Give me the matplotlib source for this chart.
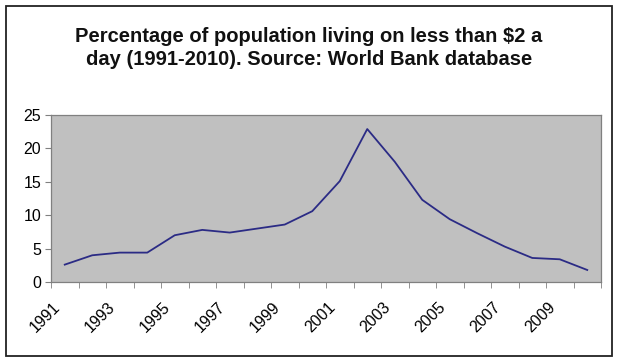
import matplotlib

matplotlib.use("Agg")
import matplotlib.pyplot as plt
from matplotlib.patches import Rectangle
from matplotlib.ticker import FixedLocator
from matplotlib.transforms import ScaledTranslation

years = list(range(1991, 2011))
share_below_2usd = [2.6, 4.0, 4.4, 4.4, 7.0, 7.8, 7.4, 8.0, 8.6, 10.6,
                    15.1, 22.9, 18.0, 12.3, 9.4, 7.3, 5.3, 3.6, 3.4, 1.8]
tick_labels = [str(y) if (y - 1991) % 2 == 0 else "" for y in years]

plt.rcParams["font.family"] = ["Liberation Sans", "DejaVu Sans"]

fig = plt.figure(figsize=(6.18, 3.62), dpi=100)
fig.patch.set_facecolor("white")
fig.patches.append(Rectangle((6 / 618, 1 - 356 / 362), 606 / 618, 350 / 362,
                             transform=fig.transFigure, fill=False,
                             edgecolor="#222222", linewidth=1.3))

ax = fig.add_axes([51 / 618, 1 - 282 / 362, 550 / 618, 167 / 362])
ax.set_facecolor("#c0c0c0")
for side in ax.spines.values():
    side.set_color("#808080")
    side.set_linewidth(0.9)

x = list(range(len(years)))
ax.plot(x, share_below_2usd, color="#2b2b85", linewidth=1.3)

ax.set_xlim(-0.5, len(years) - 0.5)
ax.set_ylim(0, 25)
ax.set_yticks([0, 5, 10, 15, 20, 25])
ax.set_xticks(x)
ax.set_xticklabels(tick_labels, rotation=45, ha="right", va="top",
                   rotation_mode="anchor", fontsize=11.5)
ax.tick_params(axis="x", length=0, pad=14)
ax.xaxis.set_minor_locator(FixedLocator([i - 0.5 for i in range(len(years) + 1)]))
ax.tick_params(axis="x", which="minor", length=4, color="#808080", direction="out")
ax.tick_params(axis="y", length=4, color="#808080", labelsize=11.5, pad=3)

# Excel puts the end of each rotated label a bit left of the category centre
shift = ScaledTranslation(-0.12, 0.02, fig.dpi_scale_trans)
for label in ax.get_xticklabels():
    label.set_transform(label.get_transform() + shift)

fig.text(0.5, 1 - 65 / 362, "Percentage of population living on less than $2 a\n"
         "day (1991-2010). Source: World Bank database",
         ha="center", va="baseline", fontsize=14.5, fontweight="bold",
         linespacing=1.25, color="#111111")

fig.savefig("out.png", dpi=100)
